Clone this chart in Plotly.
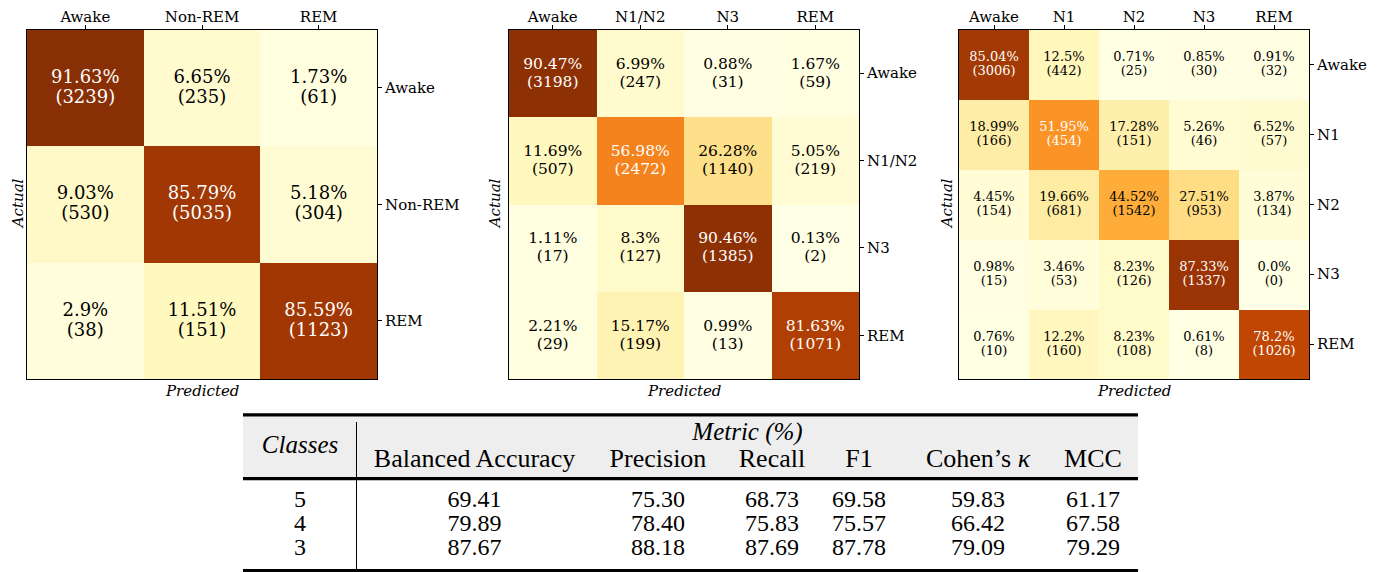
import plotly.graph_objects as go

# ---------------- data ----------------
labels_3 = ["Awake", "Non-REM", "REM"]
pct_3 = [[91.63, 6.65, 1.73],
         [9.03, 85.79, 5.18],
         [2.9, 11.51, 85.59]]
cnt_3 = [[3239, 235, 61],
         [530, 5035, 304],
         [38, 151, 1123]]

labels_4 = ["Awake", "N1/N2", "N3", "REM"]
pct_4 = [[90.47, 6.99, 0.88, 1.67],
         [11.69, 56.98, 26.28, 5.05],
         [1.11, 8.3, 90.46, 0.13],
         [2.21, 15.17, 0.99, 81.63]]
cnt_4 = [[3198, 247, 31, 59],
         [507, 2472, 1140, 219],
         [17, 127, 1385, 2],
         [29, 199, 13, 1071]]

labels_5 = ["Awake", "N1", "N2", "N3", "REM"]
pct_5 = [[85.04, 12.5, 0.71, 0.85, 0.91],
         [18.99, 51.95, 17.28, 5.26, 6.52],
         [4.45, 19.66, 44.52, 27.51, 3.87],
         [0.98, 3.46, 8.23, 87.33, 0.0],
         [0.76, 12.2, 8.23, 0.61, 78.2]]
cnt_5 = [[3006, 442, 25, 30, 32],
         [166, 454, 151, 46, 57],
         [154, 681, 1542, 953, 134],
         [15, 53, 126, 1337, 0],
         [10, 160, 108, 8, 1026]]

table_classes = ["5", "4", "3"]
metric_names = ["Balanced Accuracy", "Precision", "Recall", "F1", "Cohen’s <i>κ</i>", "MCC"]
balanced_accuracy = [69.41, 79.89, 87.67]
precision = [75.30, 78.40, 88.18]
recall = [68.73, 75.83, 87.69]
f1_score = [69.58, 75.57, 87.78]
cohens_kappa = [59.83, 66.42, 79.09]
mcc = [61.17, 67.58, 79.29]

# ---------------- layout constants (pixels, in page coordinates) ----------------
W, H = 1388, 572
OFF = 8  # page body margin in the browser
SERIF = "'DejaVu Serif', serif"
TSERIF = "'Liberation Serif', 'Times New Roman', serif"

def px(x):
    return (x - OFF) / W

def py(y):
    return 1 - (y - OFF) / H

panels = [
    dict(labels=labels_3, pct=pct_3, cnt=cnt_3, x0=27, x1=377, fs=18, gap=20, actual_x=15),
    dict(labels=labels_4, pct=pct_4, cnt=cnt_4, x0=509, x1=859, fs=15.5, gap=18, actual_x=495),
    dict(labels=labels_5, pct=pct_5, cnt=cnt_5, x0=959, x1=1309, fs=13, gap=14.3, actual_x=947),
]
Y0, Y1 = 29.5, 379
TEXT_SHIFT = 0.5  # px, fine vertical adjustment of the cell labels

fig = go.Figure()
annotations = []

for k, p in enumerate(panels, start=1):
    n = len(p["labels"])
    xa = "x" if k == 1 else f"x{k}"
    ya = "y" if k == 1 else f"y{k}"
    idx = list(range(n))
    fig.add_trace(go.Heatmap(
        z=p["pct"], x=idx, y=idx, colorscale="YlOrBr", zmin=0, zmax=100,
        showscale=False, hoverinfo="skip", xaxis=xa, yaxis=ya,
    ))
    cell = (p["x1"] - p["x0"]) / n
    d = (p["gap"] / 2) / cell
    s = TEXT_SHIFT / cell
    xs, ys1, ys2, t1, t2, cols = [], [], [], [], [], []
    for i in range(n):
        for j in range(n):
            v = p["pct"][i][j]
            xs.append(j)
            ys1.append(i - d + s)
            ys2.append(i + d + s)
            t1.append(f"{v}%")
            t2.append(f"({p['cnt'][i][j]})")
            cols.append("white" if v > 50 else "black")
    for ys, tt in ((ys1, t1), (ys2, t2)):
        fig.add_trace(go.Scatter(
            x=xs, y=ys, text=tt, mode="text", textposition="middle center",
            textfont=dict(family=SERIF, size=p["fs"], color=cols),
            hoverinfo="skip", showlegend=False, xaxis=xa, yaxis=ya,
        ))
    axis_common = dict(
        showgrid=False, zeroline=False, showline=True, mirror=True,
        linecolor="black", linewidth=1, ticks="outside", ticklen=4,
        tickwidth=1, tickcolor="black", automargin=False,
        tickfont=dict(family=SERIF, size=15, color="black"),
        tickvals=idx, ticktext=p["labels"], fixedrange=True,
    )
    fig.layout[f"xaxis{'' if k == 1 else k}"] = dict(
        axis_common, domain=[px(p["x0"]), px(p["x1"])], range=[-0.5, n - 0.5],
        side="top", anchor=ya, ticklabelstandoff=-3,
    )
    fig.layout[f"yaxis{'' if k == 1 else k}"] = dict(
        axis_common, domain=[py(Y1), py(Y0)], range=[n - 0.5, -0.5],
        side="right", anchor=xa, ticklabelstandoff=0,
    )
    annotations.append(dict(
        text="<i>Predicted</i>", x=px((p["x0"] + p["x1"]) / 2), y=py(390.5),
        xref="paper", yref="paper", showarrow=False,
        font=dict(family=SERIF, size=15, color="black"),
        xanchor="center", yanchor="middle",
    ))
    if k == 1:
        act = dict(x=0, xanchor="left", borderpad=0)
    else:
        act = dict(x=px(p["actual_x"]), xanchor="center")
    annotations.append(dict(
        text="<i>Actual</i>", y=py((Y0 + Y1) / 2),
        xref="paper", yref="paper", showarrow=False, textangle=-90,
        font=dict(family=SERIF, size=15, color="black"),
        yanchor="middle", **act,
    ))

# ---------------- table (axis in page-pixel units) ----------------
col_x = [474.5, 658, 772, 859, 978, 1093]
class_x = 300
header_y = 460
row_y = [501, 525, 549]

fig.layout["xaxis4"] = dict(domain=[0, 1], range=[OFF, W + OFF], visible=False,
                            fixedrange=True, anchor="y4", automargin=False)
fig.layout["yaxis4"] = dict(domain=[0, 1], range=[H + OFF, OFF], visible=False,
                            fixedrange=True, anchor="x4", automargin=False)

metric_cols = [balanced_accuracy, precision, recall, f1_score, cohens_kappa, mcc]
tx, ty, tt = [], [], []
for r, cls in enumerate(table_classes):
    tx.append(class_x); ty.append(row_y[r]); tt.append(cls)
    for c, col in enumerate(metric_cols):
        tx.append(col_x[c]); ty.append(row_y[r]); tt.append(f"{col[r]:.2f}")
fig.add_trace(go.Scatter(
    x=tx, y=ty, text=tt, mode="text", textposition="middle center",
    textfont=dict(family=TSERIF, size=24, color="black"),
    hoverinfo="skip", showlegend=False, xaxis="x4", yaxis="y4",
))
fig.add_trace(go.Scatter(
    x=col_x, y=[header_y] * len(col_x), text=metric_names, mode="text",
    textposition="middle center",
    textfont=dict(family=TSERIF, size=26, color="black"),
    hoverinfo="skip", showlegend=False, xaxis="x4", yaxis="y4",
))
fig.add_trace(go.Scatter(
    x=[class_x, (357 + 1138) / 2], y=[447, 434],
    text=["<i>Classes</i>", "<i>Metric (%)</i>"], mode="text",
    textposition="middle center",
    textfont=dict(family=TSERIF, size=25, color="black"),
    hoverinfo="skip", showlegend=False, xaxis="x4", yaxis="y4",
))

TL, TR = 243, 1138
shapes = [
    dict(type="rect", xref="x4", yref="y4", x0=TL, x1=TR, y0=416.5, y1=477,
         fillcolor="#eeeeee", line=dict(width=0), layer="below"),
    dict(type="rect", xref="x4", yref="y4", x0=TL, x1=TR, y0=413.3, y1=416.5,
         fillcolor="black", line=dict(width=0)),
    dict(type="rect", xref="x4", yref="y4", x0=TL, x1=TR, y0=477, y1=480.3,
         fillcolor="black", line=dict(width=0)),
    dict(type="rect", xref="x4", yref="y4", x0=TL, x1=TR, y0=569, y1=572,
         fillcolor="black", line=dict(width=0)),
    dict(type="line", xref="x4", yref="y4", x0=356.5, x1=356.5, y0=422, y1=569,
         line=dict(color="black", width=1)),
]

fig.update_layout(
    width=W, height=H, autosize=False,
    margin=dict(l=0, r=0, t=0, b=0),
    paper_bgcolor="white", plot_bgcolor="rgba(0,0,0,0)",
    showlegend=False, annotations=annotations, shapes=shapes,
)

fig.write_html("out.html")
